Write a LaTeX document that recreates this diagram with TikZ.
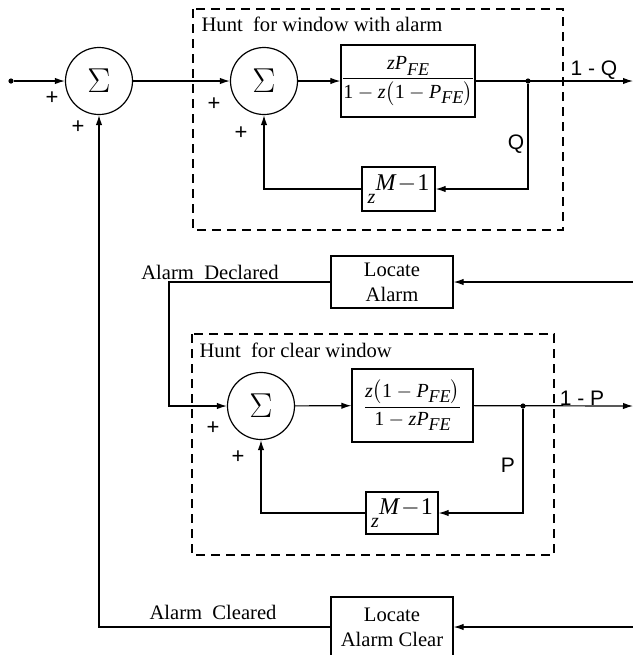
\documentclass[tikz,border=0pt]{standalone}
\usepackage{amsmath}
\usepackage{fontspec}
\setmainfont{Liberation Serif}
\newfontfamily\arialf{Liberation Sans}
\usetikzlibrary{arrows.meta,calc}
\newcommand\myPFE{\textit{P}\raisebox{-2.6pt}{\fontsize{9}{9}\selectfont\textit{FE}}}
\newcommand\myzM{\raisebox{-3.5pt}{\textit{z}}\raisebox{3pt}{\fontsize{12}{12}\selectfont\textit{M}\kern0.5pt$-$\kern0.5pt1}}
\begin{document}
\begin{tikzpicture}[x=0.5pt,y=-0.5pt,
  line width=0.6pt,
  >={Latex[length=5pt,width=3.2pt]},
  sumnode/.style={draw,circle,minimum size=33.5pt,inner sep=0pt,font=\fontsize{17}{17}\selectfont},
  blockbox/.style={draw,rectangle,inner sep=0pt,font=\fontsize{10}{12}\selectfont},
  dashbox/.style={draw,dash pattern=on 4.5pt off 3pt},
  txt/.style={font=\fontsize{10.3}{12}\selectfont,inner sep=0pt},
  sanslbl/.style={font=\arialf\fontsize{10.5}{12}\selectfont,inner sep=0pt},
  plusl/.style={font=\arialf\fontsize{11}{12}\selectfont,inner sep=0pt},
  dot/.style={circle,fill,inner sep=0pt,minimum size=2.6pt}]
\useasboundingbox (0,0) rectangle (633,655);
\clip (0,0) rectangle (633,655);

% dashed enclosures
\draw[dashbox] (193,9) rectangle (563,230);
\draw[dashbox] (192,334) rectangle (554,555);
\node[txt,anchor=west] (t1) at (201,24) {Hunt\ \ for window with alarm};
\node[txt,anchor=west] (t2) at (199,350) {Hunt\ \ for clear window};

% top row
\node[dot] (in) at (11,81) {};
\node[sumnode] (s1) at (99,81) {$\Sigma$};
\node[sumnode] (s2) at (264,81) {$\Sigma$};
\node[blockbox,minimum width=62pt,minimum height=36pt] (b1) at (408,81)
  {$\dfrac{\textit{z}\myPFE}{\text{1}-\textit{z}\bigl(\text{1}-\myPFE\bigr)}$};
\node[dot] (j1) at (528,81) {};
\coordinate (o1) at (633,81);
\node[blockbox,minimum width=36.5pt,minimum height=22pt] (d1) at (398.5,189) {\myzM};

\node[sanslbl] (l1q) at (594,70) {1 - Q};
\node[sanslbl] (lq) at (516,144) {Q};
\node[plusl] (p1) at (52,98) {+};
\node[plusl] (p2) at (78,127) {+};
\node[plusl] (p3) at (214,104) {+};
\node[plusl] (p4) at (241,133) {+};

\draw[->] (in) -- (s1);
\draw[->] (s1) -- (s2);
\draw[->] (s2) -- (b1);
\draw[->] (b1) -- (o1);
\draw[->] (j1) |- (d1.east);
\draw[->] (d1.west) -| (s2.south);

% locate alarm
\node[blockbox,minimum width=61pt,minimum height=26pt,align=center,font=\fontsize{10.3}{12.5}\selectfont] (la) at (392,282) {Locate\\Alarm};
\coordinate (lain) at (633,282);
\node[txt] (ad) at (210,272) {Alarm\ \ Declared};
\coordinate (c2) at (169,406);

% middle row
\node[sumnode] (s3) at (261,406) {$\Sigma$};
\node[blockbox,minimum width=60.5pt,minimum height=36.5pt] (b3) at (412.5,405.5)
  {$\dfrac{\textit{z}\bigl(\text{1}-\myPFE\bigr)}{\text{1}-\textit{z}\myPFE}$};
\node[dot] (j3) at (523,406) {};
\coordinate (o3) at (633,406);
\node[blockbox,minimum width=36pt,minimum height=21pt] (d3) at (402,513) {\myzM};
\node[sanslbl] (l1p) at (582,398) {1 - P};
\node[sanslbl] (lp) at (508,465) {P};
\node[plusl] (p5) at (213,428) {+};
\node[plusl] (p6) at (238,457) {+};

\draw[->] (lain) -- (la.east);
\draw[->] (la.west) -| (c2) -- (s3.west);
\draw[->] (s3) -- (b3);
\draw[->] (b3) -- (o3);
\draw[->] (j3) |- (d3.east);
\draw[->] (d3.west) -| (s3.south);

% bottom
\node[blockbox,minimum width=61pt,minimum height=30pt,align=center,font=\fontsize{10.3}{12.5}\selectfont] (lc) at (392,627) {Locate\\Alarm Clear};
\coordinate (lcin) at (633,627);
\node[txt] (ac) at (213,612) {Alarm\ \ Cleared};
\draw[->] (lcin) -- (lc.east);
\draw[->] (lc.west) -| (s1.south);
\end{tikzpicture}
\end{document}
